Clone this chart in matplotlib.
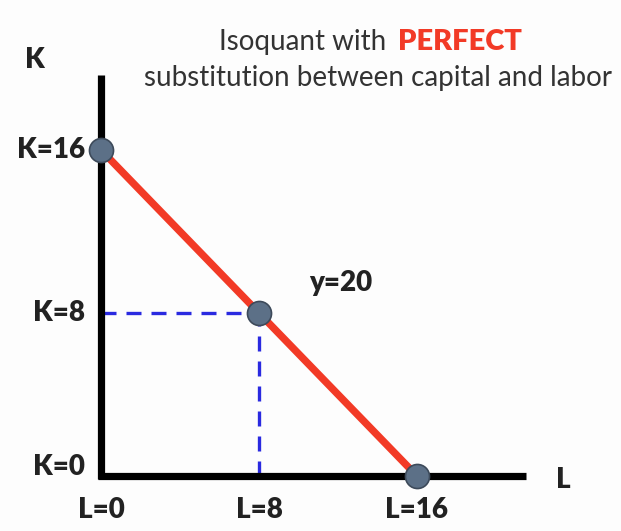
import matplotlib
matplotlib.use('Agg')
import matplotlib.pyplot as plt

# data of the isoquant y=20
L_pts = [0, 8, 16]
K_pts = [16, 8, 0]
tick_L = ['L=0', 'L=8', 'L=16']
tick_K = ['K=16', 'K=8', 'K=0']

plt.rcParams['font.family'] = ['Lato', 'DejaVu Sans']

W, H = 621, 531
fig = plt.figure(figsize=(W / 100, H / 100), dpi=100)
fig.patch.set_facecolor('#fdfdfd')
ax = fig.add_axes([0, 0, 1, 1])
ax.set_xlim(-5.114, 26.33)
ax.set_ylim(-2.70, 23.36)
ax.axis('off')


def px(x, y):
    # figure pixel coords (origin top-left) to figure fraction
    return x / W, 1 - y / H


# axes
ax.plot([0, 0], [-0.15, 19.7], color='black', lw=5.2, solid_capstyle='butt', zorder=2)
ax.plot([-0.15, 21.5], [0, 0], color='black', lw=5.2, solid_capstyle='butt', zorder=2)

# dashed guides
ax.plot([0, L_pts[1]], [K_pts[1], K_pts[1]], color='#2a2ae0', lw=2.4, ls=(0, (4.5, 3)), zorder=1)
ax.plot([L_pts[1], L_pts[1]], [0, K_pts[1]], color='#2a2ae0', lw=2.4, ls=(0, (4.5, 3)), zorder=1)

# isoquant
ax.plot(L_pts, K_pts, color='#f23a26', lw=5.3, zorder=3)
ax.scatter(L_pts, K_pts, s=300, color='#5c7087', edgecolor='#3d4a5a', linewidth=1.2, zorder=4)

# tick labels
for x, lab in zip(L_pts, tick_L):
    ax.text(x, -1.65, lab, ha='center', va='center', fontsize=20, fontweight='heavy', color='#222222')
for y, lab in zip(K_pts, tick_K):
    ax.text(-0.8, y + (0.45 if y == 0 else 0), lab, ha='right', va='center',
            fontsize=20, fontweight='heavy', color='#222222')

fig.text(*px(35, 60), 'K', ha='center', va='center', fontsize=20, fontweight='heavy', color='#222222')
fig.text(*px(563, 480), 'L', ha='center', va='center', fontsize=20, fontweight='heavy', color='#222222')
fig.text(*px(341, 283), 'y=20', ha='center', va='center', fontsize=20, fontweight='heavy', color='#222222')

# title
fig.text(*px(393, 42), 'Isoquant with ', ha='right', va='center', fontsize=20, color='#333333')
fig.text(*px(398, 42), 'PERFECT', ha='left', va='center', fontsize=21, fontweight='heavy', color='#f23a26')
fig.text(*px(378, 78), 'substitution between capital and labor', ha='center', va='center',
         fontsize=20, color='#333333')

fig.savefig('out.png', dpi=100, facecolor=fig.get_facecolor())
